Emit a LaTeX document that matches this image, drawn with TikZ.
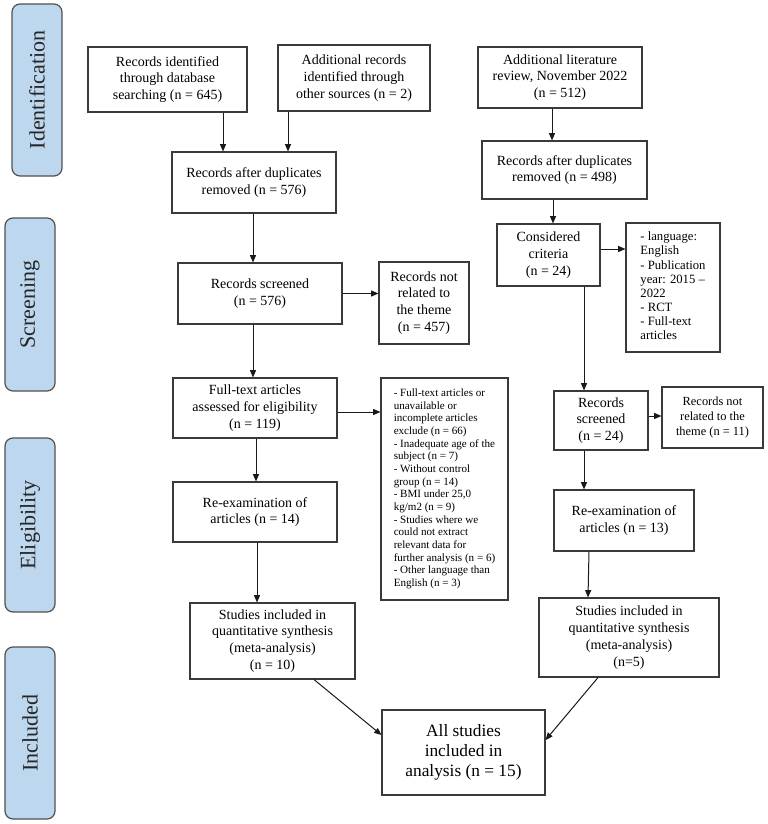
\documentclass[tikz,border=0pt]{standalone}
\usepackage{fontspec}
\setmainfont{Liberation Serif}
\usetikzlibrary{arrows.meta,calc}
\definecolor{sidefill}{HTML}{BDD7EE}
\definecolor{sidedraw}{HTML}{505050}
\definecolor{boxdraw}{HTML}{3A3A3A}
\begin{document}
\begin{tikzpicture}[x=0.75pt,y=-0.75pt,
  box/.style={draw=boxdraw,line width=0.8pt,fill=white,inner sep=0pt,align=center,
    font=\fontsize{10.5}{12.6}\selectfont},
  wh/.style 2 args={minimum width=#1*0.75pt,minimum height=#2*0.75pt},
  side/.style={draw=sidedraw,line width=0.9pt,fill=sidefill,rounded corners=6pt,
    inner sep=0pt,rotate=90,font=\fontsize{16.5}{18}\selectfont,text=black!85},
  arr/.style={draw=black!90,line width=0.75pt,-{Triangle[length=5.5pt,width=4.5pt]}}]
\useasboundingbox (0,0) rectangle (767,824);

% phase labels
\node[side,wh={172}{50}] (sid) at (37,90) {Identification};
\node[side,wh={173}{50}] (ssc) at (30,304.5) {Screening};
\node[side,wh={174}{50}] (sel) at (30,525) {Eligibility};
\node[side,wh={172}{50}] (sin) at (30,733) {Included};

% left column
\node[box,wh={159}{65}] (A) at (167.5,79.5) {Records identified\\through database\\searching (n = 645)};
\node[box,wh={152}{66}] (B) at (354,78) {Additional records\\identified through\\other sources (n = 2)};
\node[box,wh={164}{61}] (C) at (254,182.5) {Records after duplicates\\removed (n = 576)};
\node[box,wh={164}{61}] (RS) at (260,293.5) {Records screened\\(n = 576)};
\node[box,wh={90}{82}] (NR) at (424,303) {Records not\\related to\\the theme\\(n = 457)};
\node[box,wh={164}{60}] (FT) at (255,408) {Full-text articles\\assessed for eligibility\\(n = 119)};
\node[box,wh={127}{222},align=left,font=\fontsize{8.3}{9.5}\selectfont] (EX) at (444.5,489)
  {- Full-text articles or\\unavailable or\\incomplete articles\\exclude (n = 66)\\- Inadequate age of the\\subject (n = 7)\\- Without control\\group (n = 14)\\- BMI under 25,0\\kg/m2 (n = 9)\\- Studies where we\\could not extract\\relevant data for\\further analysis (n = 6)\\- Other language than\\English (n = 3)};
\node[box,wh={164}{60}] (RE) at (255,512) {Re-examination of\\articles (n = 14)};
\node[box,wh={165}{76}] (SL) at (272.5,641) {Studies included in\\quantitative synthesis\\(meta-analysis)\\(n = 10)};
\node[box,wh={163}{85},font=\fontsize{13}{15}\selectfont] (ALL) at (463.5,752.5) {All studies\\included in\\analysis (n = 15)};

% right column
\node[box,wh={164}{61}] (AL) at (560,77.5) {Additional literature\\review, November 2022\\(n = 512)};
\node[box,wh={165}{58}] (CR) at (564.5,170) {Records after duplicates\\removed (n = 498)};
\node[box,wh={103}{62}] (CC) at (548.5,255) {Considered\\criteria\\(n = 24)};
\node[box,wh={94}{129},align=left,font=\fontsize{9.5}{10.6}\selectfont] (CB) at (673,287.5)
  {\begin{tabular}{@{}l@{}}- language:\\English\\- Publication\\year: 2015 –\\2022\\- RCT\\- Full-text\\articles\end{tabular}};
\node[box,wh={94}{59}] (RSR) at (601,420.5) {Records\\screened\\(n = 24)};
\node[box,wh={101}{61},font=\fontsize{9.3}{11.5}\selectfont] (NRR) at (712.5,417.5) {Records not\\related to the\\theme (n = 11)};
\node[box,wh={140}{61}] (RER) at (624,520.5) {Re-examination of\\articles (n = 13)};
\node[box,wh={180}{79}] (SR) at (629,637.5) {Studies included in\\quantitative synthesis\\(meta-analysis)\\(n=5)};

% connectors left
\draw[arr] ($(A.south)+(55.5,0)$) coordinate (a1) -- (a1 |- C.north);
\draw[arr] ($(B.south)+(-66,0)$) coordinate (b1) -- (b1 |- C.north);
\draw[arr] ($(C.south)+(-1,0)$) coordinate (c1) -- (c1 |- RS.north);
\draw[arr] (RS.east) -- (RS.east -| NR.west);
\draw[arr] ($(RS.south)+(-7,0)$) coordinate (r1) -- (r1 |- FT.north);
\draw[arr] ($(FT.east)+(0,4)$) coordinate (f1) -- (f1 -| EX.west);
\draw[arr] ($(FT.south)+(1,0)$) coordinate (f2) -- (f2 |- RE.north);
\draw[arr] ($(RE.south)+(2,0)$) coordinate (e1) -- (e1 |- SL.north);
\draw[arr] ($(SL.south)+(41.5,0)$) -- ($(ALL.west)+(0,-17.5)$);

% connectors right
\draw[arr] ($(AL.south)+(-8,0)$) coordinate (l1) -- (l1 |- CR.north);
\draw[arr] ($(CR.south)+(-11.5,0)$) coordinate (k1) -- (k1 |- CC.north);
\draw[arr] ($(CC.east)+(0,-6)$) coordinate (k2) -- (k2 -| CB.west);
\coordinate (k3) at ($(RSR.north)+(-17,0)$);
\draw[arr] (k3 |- CC.south) -- (k3);
\draw[arr] ($(RSR.east)+(0,-4.5)$) coordinate (k4) -- (k4 -| NRR.west);
\draw[arr] ($(RSR.south)+(-17,0)$) coordinate (k5) -- (k5 |- RER.north);
\draw[arr] ($(RER.south)+(-35,0)$) -- ($(SR.north)+(-41,0)$);
\draw[arr] ($(SR.south)+(-31,0)$) -- ($(ALL.east)+(0,-12.5)$);
\end{tikzpicture}
\end{document}
